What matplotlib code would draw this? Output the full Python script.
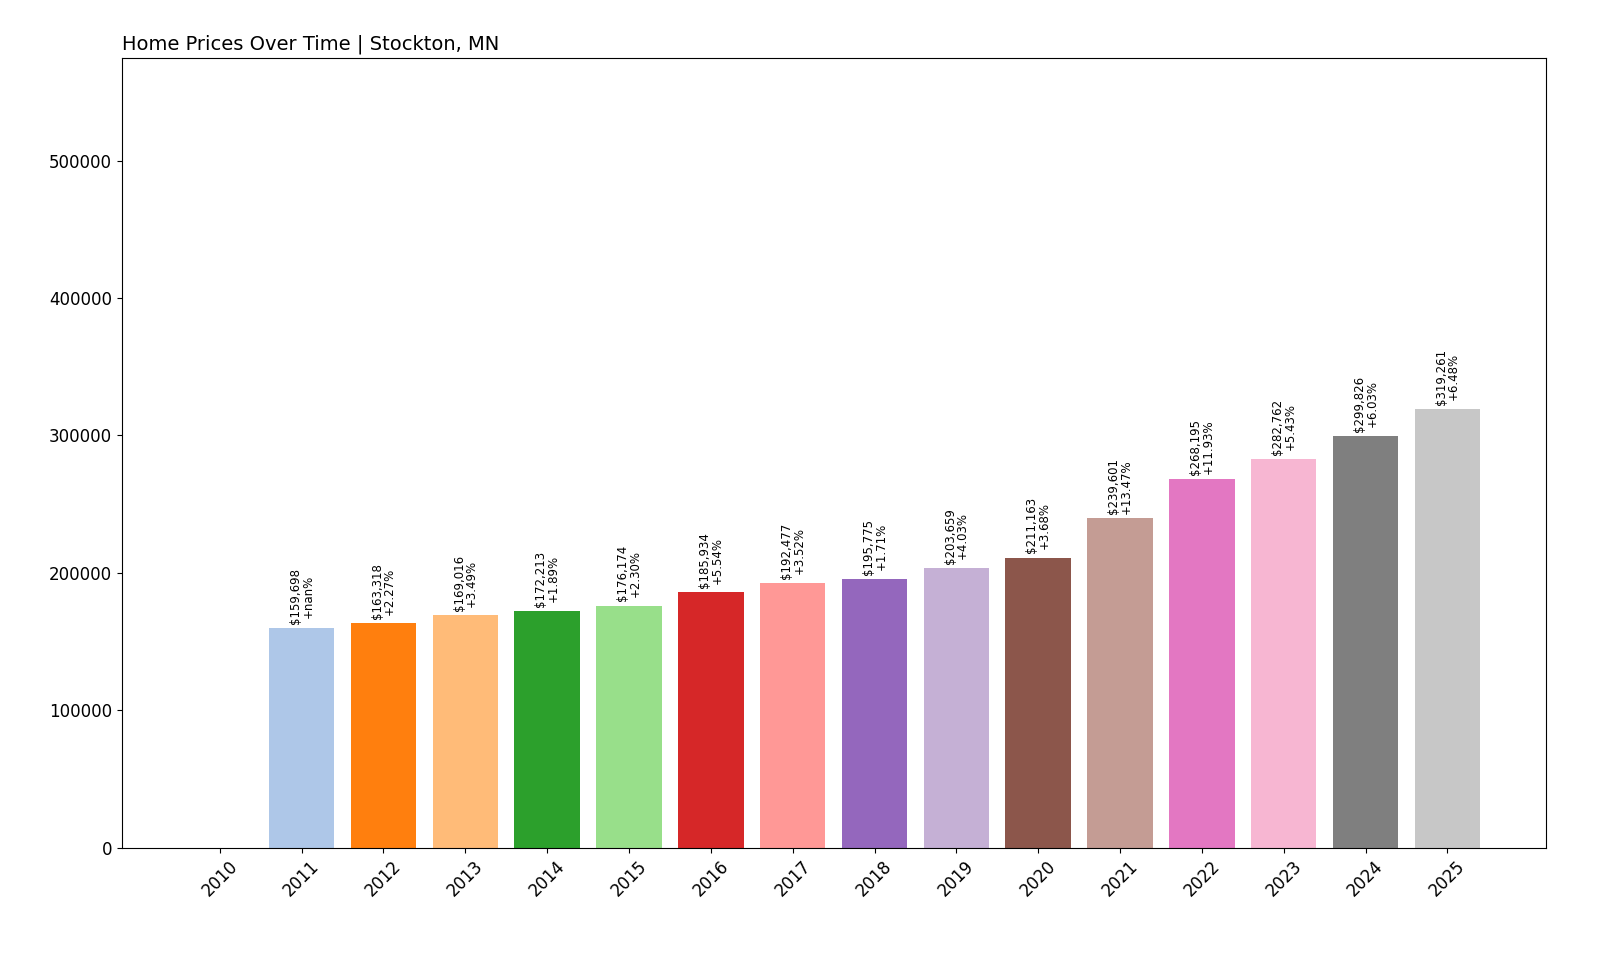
import matplotlib
matplotlib.use("Agg")
import matplotlib.pyplot as plt
import numpy as np

years = [str(y) for y in range(2010, 2026)]
prices = [0, 159698, 163318, 169016, 172213, 176174, 185934, 192477, 195775,
          203659, 211163, 239601, 268195, 282762, 299826, 319261]
changes = ["", "+nan%", "+2.27%", "+3.49%", "+1.89%", "+2.30%", "+5.54%", "+3.52%",
           "+1.71%", "+4.03%", "+3.68%", "+13.47%", "+11.93%", "+5.43%", "+6.03%", "+6.48%"]

colors = plt.cm.tab20(np.arange(16) % 20)

fig = plt.figure(figsize=(16, 9.6), dpi=100)
ax = fig.add_axes([0.076, 0.117, 0.89, 0.823])
x = np.arange(len(years))
bars = ax.bar(x, prices, color=colors, width=0.8)
for i, (b, p) in enumerate(zip(bars, prices)):
    if i == 0:
        continue
    ax.text(b.get_x() + b.get_width() / 2, p + 3000, f"${p:,}\n{changes[i]}",
            rotation=90, ha="center", va="bottom", fontsize=8.5, linespacing=0.95)
ax.set_xticks(x)
ax.set_xticklabels(years, rotation=45, fontsize=12)
ax.tick_params(axis="y", labelsize=12)
ax.set_ylim(0, 575000)
ax.set_xlim(-1.2, 16.2)
ax.set_yticks([0, 100000, 200000, 300000, 400000, 500000])
ax.set_title("Home Prices Over Time | Stockton, MN", loc="left", fontsize=14)
fig.savefig("out.png")
